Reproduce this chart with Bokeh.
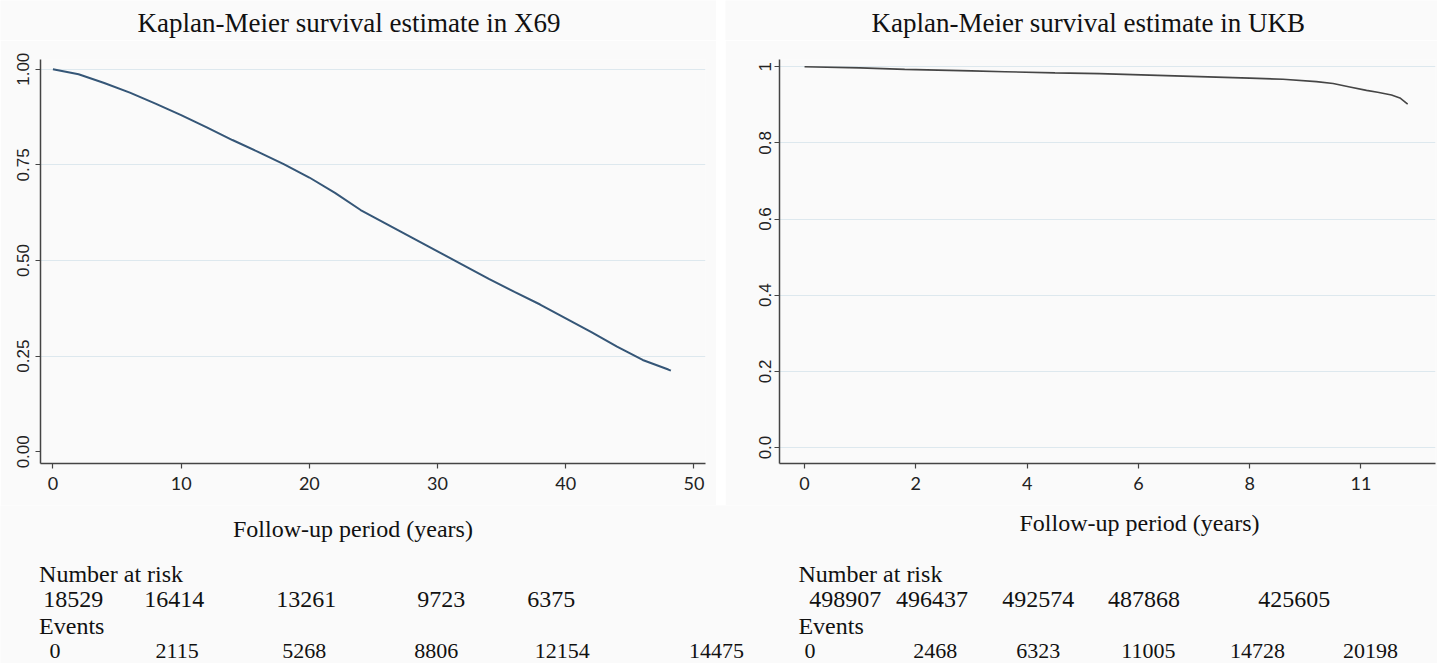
from bokeh.plotting import figure
from bokeh.models import Range1d, FixedTicker, Spacer
from bokeh.layouts import row, column
from bokeh.embed import file_html
from bokeh.resources import INLINE

# ---------------- data ----------------
x69_time = [0, 2, 4, 6, 8, 10, 12, 14, 16, 18, 20, 22, 24, 26, 28, 30, 32, 34, 36, 38, 40, 42, 44, 46, 48, 48.2]
x69_surv = [1.000, 0.987, 0.964, 0.939, 0.910, 0.880, 0.848, 0.815, 0.784, 0.752, 0.717, 0.677, 0.632,
            0.596, 0.560, 0.524, 0.488, 0.452, 0.418, 0.385, 0.349, 0.313, 0.275, 0.240, 0.215, 0.212]

ukb_time = [0, 1, 1.8, 3, 3.6, 4.5, 5.3, 6.2, 7.1, 8.0, 8.6, 9.2, 9.5, 9.8, 10.1, 10.3, 10.55, 10.7, 10.84]
ukb_surv = [1.000, 0.997, 0.993, 0.989, 0.987, 0.984, 0.982, 0.978, 0.974, 0.970, 0.967, 0.961, 0.956,
            0.947, 0.938, 0.933, 0.926, 0.918, 0.902]

titles = ["Kaplan-Meier survival estimate in X69", "Kaplan-Meier survival estimate in UKB"]
x_title = "Follow-up period (years)"

x69_yticks = [0, 0.25, 0.5, 0.75, 1.0]
x69_ylabels = ["0.00", "0.25", "0.50", "0.75", "1.00"]
x69_xticks = [0, 10, 20, 30, 40, 50]

ukb_yticks = [0, 0.2, 0.4, 0.6, 0.8, 1.0]
ukb_ylabels = ["0.0", "0.2", "0.4", "0.6", "0.8", "1"]
ukb_xticks = [0, 2, 4, 6, 8, 10]
ukb_xlabels = ["0", "2", "4", "6", "8", "11"]

x69_at_risk = [18529, 16414, 13261, 9723, 6375]
x69_events = [0, 2115, 5268, 8806, 12154, 14475]
ukb_at_risk = [498907, 496437, 492574, 487868, 425605]
ukb_events = [0, 2468, 6323, 11005, 14728, 20198]

# label anchor positions (in years, on each panel's time axis) for the risk tables
x69_risk_pos = [1.58, 9.46, 19.76, 30.28, 38.86]
x69_event_pos = [0.17, 9.69, 19.6, 29.89, 39.72, 51.76]
ukb_risk_pos = [0.73, 2.29, 4.2, 6.1, 8.8]
ukb_event_pos = [0.1, 2.35, 4.2, 6.18, 8.14, 10.17]

BG = "#fafafa"
GRID = "#dde8ee"
AXIS = "#444444"
SERIF = "Liberation Serif"
SANS_TICK = "Lato"

# panel geometry (pixels)
L_W, R_W, GAP = 716, 712, 9
TOP_H, PLOT_H, BOT_H = 40, 465, 158
L_BL, L_BR, R_BL, R_BR = 40, 11, 54, 2
L_XR, R_XR = (-0.97, 50.9), (-0.45, 11.34)
TOT_W = L_W + GAP + R_W


def style_plot(p, xticks, yticks, ylabels, xlabels=None):
    p.background_fill_color = BG
    p.border_fill_color = BG
    p.outline_line_color = None
    p.xgrid.visible = False
    p.ygrid.ticker = FixedTicker(ticks=[t for t in yticks if t > 0])
    p.ygrid.grid_line_color = GRID
    p.ygrid.grid_line_width = 1.2
    p.xaxis.ticker = FixedTicker(ticks=xticks)
    if xlabels is not None:
        p.xaxis.major_label_overrides = {t: l for t, l in zip(xticks, xlabels)}
    p.yaxis.ticker = FixedTicker(ticks=yticks)
    p.yaxis.major_label_overrides = {t: l for t, l in zip(yticks, ylabels)}
    p.yaxis.major_label_orientation = "vertical"
    for ax in (p.xaxis[0], p.yaxis[0]):
        ax.axis_line_color = AXIS
        ax.axis_line_width = 1.5
        ax.major_tick_line_color = AXIS
        ax.major_tick_line_width = 1.2
        ax.major_tick_in = 0
        ax.major_tick_out = 5
        ax.minor_tick_line_color = None
        ax.major_label_text_color = "#222222"
    p.xaxis.major_label_text_font = SANS_TICK
    p.xaxis.major_label_text_font_size = "18px"
    p.xaxis.major_label_standoff = 8
    p.yaxis.major_label_text_font = "Liberation Sans"
    p.yaxis.major_label_text_font_size = "17px"
    p.yaxis.major_label_standoff = 6


def strip(width, height):
    s = figure(width=width, height=height, output_backend="svg", toolbar_location=None,
               x_range=Range1d(0, width), y_range=Range1d(height, 0),
               min_border=0, x_axis_type=None, y_axis_type=None)
    s.background_fill_color = BG
    s.border_fill_color = BG
    s.outline_line_color = None
    s.grid.visible = False
    return s


def left_px(t):
    fw = L_W - L_BL - L_BR
    return L_BL + (t - L_XR[0]) * fw / (L_XR[1] - L_XR[0])


def right_px(t):
    fw = R_W - R_BL - R_BR
    return L_W + GAP + R_BL + (t - R_XR[0]) * fw / (R_XR[1] - R_XR[0])


title_kw = dict(text_font=SERIF, text_font_size="27px", text_align="left", text_baseline="middle",
                text_color="#111111")

# ---------------- titles ----------------
top_l = strip(L_W, TOP_H)
top_l.text(x=[L_BL + 97], y=[22], text=titles[:1], **title_kw)
top_r = strip(R_W, TOP_H)
top_r.text(x=[R_BL + 92], y=[22], text=titles[1:], **title_kw)

# ---------------- left panel ----------------
p1 = figure(width=L_W, height=PLOT_H, output_backend="svg", toolbar_location=None,
            x_range=Range1d(*L_XR), y_range=Range1d(-0.0306, 1.0255),
            min_border_left=L_BL, min_border_right=L_BR, min_border_top=9, min_border_bottom=42)
style_plot(p1, x69_xticks, x69_yticks, x69_ylabels)
p1.line(x69_time, x69_surv, line_color="#355677", line_width=2)

# ---------------- right panel ----------------
p2 = figure(width=R_W, height=PLOT_H, output_backend="svg", toolbar_location=None,
            x_range=Range1d(*R_XR), y_range=Range1d(-0.042, 1.019),
            min_border_left=R_BL, min_border_right=R_BR, min_border_top=19, min_border_bottom=38)
style_plot(p2, ukb_xticks, ukb_yticks, ukb_ylabels, ukb_xlabels)
p2.ygrid.ticker = FixedTicker(ticks=ukb_yticks)
p2.yaxis.major_label_standoff = 3
p2.line(ukb_time, ukb_surv, line_color="#454545", line_width=1.6)

# ---------------- axis titles + risk tables (one strip under both panels) ----------------
bot = strip(TOT_W, BOT_H)
serif_kw = dict(text_font=SERIF, text_font_size="24px", text_baseline="middle", text_color="#111111")
sans_kw = dict(text_font="Lato", text_font_size="22px", text_baseline="middle",
               text_color="#111111", text_align="center")

ROW_XL_L, ROW_XL_R = 23, 17
ROW_NAR, ROW_RISK, ROW_EV, ROW_EVN = 68, 94, 120, 145

bot.text(x=[left_px(23.4), right_px(6.02)], y=[ROW_XL_L, ROW_XL_R], text=[x_title, x_title],
         text_align="center", **serif_kw)
bot.text(x=[left_px(-1.08)] * 2 + [right_px(-0.11)] * 2, y=[ROW_NAR, ROW_EV] * 2,
         text=["Number at risk", "Events"] * 2, text_align="left", **serif_kw)
bot.text(x=[left_px(t) for t in x69_risk_pos] + [right_px(t) for t in ukb_risk_pos],
         y=[ROW_RISK] * (len(x69_at_risk) + len(ukb_at_risk)),
         text=[str(v) for v in x69_at_risk] + [str(v) for v in ukb_at_risk],
         text_align="center", **serif_kw)
bot.text(x=[left_px(t) for t in x69_event_pos] + [right_px(t) for t in ukb_event_pos],
         y=[ROW_EVN] * (len(x69_events) + len(ukb_events)),
         text=[str(v) for v in x69_events] + [str(v) for v in ukb_events], **sans_kw)

layout = column(row(top_l, Spacer(width=GAP), top_r),
                row(p1, Spacer(width=GAP), p2),
                bot)

with open("out.html", "w") as f:
    f.write(file_html(layout, INLINE))
